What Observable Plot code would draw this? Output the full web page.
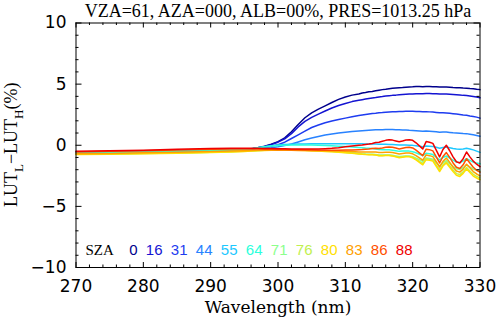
<!DOCTYPE html>
<html><head><meta charset="utf-8">
<script src="https://cdn.jsdelivr.net/npm/d3@7"></script>
<script src="https://cdn.jsdelivr.net/npm/@observablehq/plot@0.6"></script>
<style>body{margin:0;background:#fff} svg{display:block}</style>
</head><body><div id="chart"></div>
<script>
const titleText = "VZA=61, AZA=000, ALB=00%, PRES=1013.25 hPa";
const xLabel = "Wavelength (nm)";
const wavelengths = [270,275,280,285,290,293,295,296,297,298,299,300,301,302,303,304,305,306,307,308,309,310,311,312,312.5,313,313.5,314,314.5,315,315.5,316,316.5,317,317.5,318,318.5,319,319.5,320,320.5,321,321.5,322,322.5,323,323.5,324,324.5,325,325.5,326,326.5,327,327.5,328,328.5,329,329.5,330];
const sza0 = [-0.6,-0.56,-0.52,-0.47,-0.42,-0.37,-0.33,-0.3,-0.2,-0.08,
 0.08,0.3,0.6,1.1,1.7,2.25,2.65,2.95,3.22,3.5,
 3.75,3.95,4.1,4.2,4.28,4.32,4.38,4.4,4.45,4.5,
 4.55,4.58,4.62,4.66,4.68,4.7,4.72,4.75,4.77,4.78,
 4.8,4.8,4.79,4.81,4.8,4.79,4.78,4.76,4.77,4.76,
 4.74,4.72,4.71,4.7,4.68,4.67,4.64,4.62,4.58,4.55];
const sza16 = [-0.6,-0.56,-0.52,-0.47,-0.42,-0.37,-0.33,-0.3,-0.2,-0.1,
 0.05,0.25,0.52,0.95,1.5,1.95,2.28,2.55,2.8,3.05,
 3.25,3.42,3.57,3.68,3.73,3.78,3.83,3.87,3.9,3.95,
 3.98,4.02,4.05,4.08,4.1,4.13,4.15,4.17,4.19,4.2,
 4.22,4.22,4.21,4.24,4.23,4.22,4.21,4.19,4.2,4.19,
 4.17,4.15,4.13,4.11,4.08,4.06,4.02,3.98,3.94,3.88];
const sza31 = [-0.6,-0.56,-0.52,-0.47,-0.42,-0.37,-0.33,-0.3,-0.23,-0.17,
 -0.08,0.05,0.25,0.55,0.85,1.15,1.45,1.66,1.84,1.98,
 2.1,2.22,2.33,2.43,2.48,2.52,2.56,2.6,2.62,2.65,
 2.67,2.7,2.72,2.74,2.75,2.76,2.77,2.78,2.78,2.78,
 2.77,2.76,2.74,2.75,2.73,2.71,2.68,2.65,2.66,2.64,
 2.61,2.58,2.55,2.52,2.48,2.45,2.4,2.36,2.3,2.22];
const sza44 = [-0.6,-0.56,-0.52,-0.47,-0.42,-0.37,-0.33,-0.3,-0.28,-0.25,
 -0.2,-0.13,-0.03,0.1,0.27,0.45,0.6,0.72,0.83,0.92,
 1.0,1.07,1.12,1.17,1.19,1.21,1.23,1.25,1.26,1.27,
 1.27,1.28,1.28,1.28,1.27,1.26,1.25,1.24,1.22,1.21,
 1.19,1.17,1.14,1.16,1.14,1.12,1.1,1.06,1.08,1.08,
 1.05,1.02,1.0,0.98,0.96,0.95,0.9,0.85,0.8,0.74];
const sza55 = [-0.62,-0.58,-0.53,-0.48,-0.43,-0.37,-0.32,-0.28,-0.2,-0.12,
 -0.04,0.02,0.06,0.08,0.1,0.11,0.12,0.12,0.12,0.12,
 0.12,0.12,0.12,0.12,0.12,0.11,0.11,0.1,0.1,0.09,
 0.09,0.08,0.07,0.06,0.05,0.03,0.03,0.02,0.01,-0.01,
 -0.04,-0.08,-0.12,-0.06,-0.08,-0.1,-0.16,-0.24,-0.18,-0.14,
 -0.2,-0.26,-0.3,-0.32,-0.3,-0.25,-0.3,-0.38,-0.48,-0.58];
const sza64 = [-0.62,-0.58,-0.53,-0.48,-0.43,-0.37,-0.32,-0.28,-0.2,-0.13,
 -0.06,-0.02,0.01,0.03,0.03,0.03,0.02,0.0,-0.02,-0.05,
 -0.08,-0.11,-0.15,-0.19,-0.21,-0.23,-0.24,-0.27,-0.3,-0.35,
 -0.36,-0.36,-0.37,-0.4,-0.45,-0.5,-0.48,-0.47,-0.48,-0.53,
 -0.62,-0.74,-0.85,-0.66,-0.7,-0.76,-0.98,-1.2,-1.0,-0.88,
 -1.05,-1.22,-1.38,-1.42,-1.3,-1.1,-1.24,-1.38,-1.46,-1.52];
const sza71 = [-0.72,-0.7,-0.66,-0.62,-0.57,-0.52,-0.48,-0.45,-0.42,-0.4,
 -0.37,-0.35,-0.34,-0.34,-0.35,-0.37,-0.4,-0.43,-0.47,-0.5,
 -0.54,-0.58,-0.62,-0.67,-0.7,-0.72,-0.73,-0.74,-0.76,-0.8,
 -0.8,-0.79,-0.79,-0.82,-0.87,-0.92,-0.9,-0.88,-0.88,-0.93,
 -1.05,-1.18,-1.32,-1.05,-1.08,-1.14,-1.42,-1.7,-1.42,-1.25,
 -1.48,-1.72,-1.92,-1.98,-1.82,-1.6,-1.78,-1.95,-2.05,-2.12];
const sza76 = [-0.74,-0.71,-0.67,-0.63,-0.58,-0.53,-0.49,-0.46,-0.43,-0.41,
 -0.39,-0.38,-0.38,-0.38,-0.39,-0.41,-0.43,-0.46,-0.49,-0.52,
 -0.56,-0.6,-0.64,-0.69,-0.72,-0.74,-0.75,-0.76,-0.78,-0.83,
 -0.83,-0.82,-0.82,-0.86,-0.92,-0.98,-0.94,-0.9,-0.91,-0.98,
 -1.14,-1.32,-1.5,-1.1,-1.14,-1.22,-1.62,-2.02,-1.6,-1.35,
 -1.68,-2.02,-2.32,-2.4,-2.18,-1.82,-2.1,-2.38,-2.55,-2.68];
const sza80 = [-0.76,-0.73,-0.69,-0.65,-0.6,-0.55,-0.51,-0.48,-0.45,-0.43,
 -0.41,-0.4,-0.4,-0.4,-0.41,-0.43,-0.45,-0.48,-0.51,-0.54,
 -0.58,-0.62,-0.66,-0.71,-0.74,-0.76,-0.77,-0.78,-0.8,-0.85,
 -0.85,-0.84,-0.84,-0.88,-0.95,-1.02,-0.98,-0.94,-0.95,-1.03,
 -1.2,-1.4,-1.6,-1.18,-1.22,-1.3,-1.72,-2.15,-1.7,-1.45,
 -1.8,-2.15,-2.45,-2.55,-2.3,-1.95,-2.22,-2.52,-2.68,-2.82];
const sza83 = [-0.7,-0.67,-0.62,-0.57,-0.52,-0.47,-0.44,-0.42,-0.41,-0.4,
 -0.4,-0.4,-0.4,-0.41,-0.42,-0.43,-0.44,-0.45,-0.46,-0.47,
 -0.48,-0.5,-0.52,-0.55,-0.56,-0.56,-0.55,-0.55,-0.56,-0.6,
 -0.6,-0.58,-0.57,-0.6,-0.66,-0.72,-0.68,-0.64,-0.64,-0.7,
 -0.85,-1.03,-1.22,-0.8,-0.85,-0.93,-1.35,-1.78,-1.32,-1.05,
 -1.4,-1.8,-2.1,-2.2,-1.95,-1.55,-1.85,-2.15,-2.35,-2.5];
const sza86 = [-0.55,-0.5,-0.44,-0.38,-0.32,-0.3,-0.3,-0.3,-0.31,-0.32,
 -0.33,-0.34,-0.35,-0.36,-0.37,-0.38,-0.39,-0.4,-0.4,-0.4,
 -0.4,-0.39,-0.38,-0.36,-0.35,-0.32,-0.3,-0.27,-0.24,-0.26,
 -0.22,-0.17,-0.14,-0.17,-0.23,-0.3,-0.24,-0.18,-0.17,-0.22,
 -0.4,-0.62,-0.85,-0.32,-0.36,-0.46,-0.95,-1.45,-0.92,-0.6,
 -1.0,-1.45,-1.8,-1.9,-1.6,-1.1,-1.45,-1.8,-2.05,-2.2];
const sza88 = [-0.5,-0.45,-0.4,-0.33,-0.27,-0.25,-0.24,-0.24,-0.25,-0.26,
 -0.27,-0.28,-0.29,-0.3,-0.3,-0.31,-0.31,-0.3,-0.28,-0.25,
 -0.2,-0.13,-0.06,0.0,0.03,0.07,0.1,0.15,0.22,0.25,
 0.33,0.4,0.45,0.42,0.35,0.28,0.35,0.43,0.45,0.4,
 0.2,-0.05,-0.3,0.3,0.25,0.15,-0.4,-0.95,-0.35,0.0,
 -0.45,-0.95,-1.35,-1.45,-1.1,-0.55,-0.95,-1.3,-1.55,-1.75];
const szaLabels = ["0","16","31","44","55","64","71","76","80","83","86","88"];
const szaColors = ["#00008C","#1414D2","#1E3CF0","#2882FF","#1EC8FF","#2CFFDC","#8CFF8C","#C0F050","#FFE000","#FFA000","#FF5000","#F00000"];
const xMajor = [270,280,290,300,310,320,330];
const xMinor = [272,274,276,278,282,284,286,288,292,294,296,298,302,304,306,308,312,314,316,318,322,324,326,328];
const yMajor = [-10,-5,0,5,10];
const yMinor = [-9,-8,-7,-6,-4,-3,-2,-1,1,2,3,4,6,7,8,9];

const series = [sza0,sza16,sza31,sza44,sza55,sza64,sza71,sza76,sza80,sza83,sza86,sza88];
const rows = series.flatMap((vals, i) => vals.map((v, j) => ({wl: wavelengths[j], d: v, sza: szaLabels[i]})));

const W = 500, H = 319, mT = 22.5, mB = 52, mL = 75.5, mR = 20.5;
const innerH = H - mT - mB, innerW = W - mL - mR;
const sans = "DejaVu Sans", serif = "Liberation Serif";

const legendMarks = szaLabels.map((lab, i) => Plot.text([lab], {
  frameAnchor: "bottom-left", dx: 61.5 + 25 * i, dy: -17.5, textAnchor: "end", lineAnchor: "middle",
  fill: szaColors[i], fontSize: 15, fontFamily: "Liberation Sans"
}));

const plot = Plot.plot({
  width: W, height: H,
  marginTop: mT, marginBottom: mB, marginLeft: mL, marginRight: mR,
  style: {background: "#fff", overflow: "visible"},
  x: {domain: [270, 330]},
  y: {domain: [-10, 10]},
  color: {domain: szaLabels, range: szaColors},
  marks: [
    Plot.line(rows, {x: "wl", y: "d", z: "sza", stroke: "sza", strokeWidth: 1.5}),
    Plot.frame({stroke: "#000", strokeWidth: 1}),
    Plot.tickX(xMajor, {x: d => d, insetTop: innerH - 5, stroke: "#000"}),
    Plot.tickX(xMajor, {x: d => d, insetBottom: innerH - 5, stroke: "#000"}),
    Plot.tickX(xMinor, {x: d => d, insetTop: innerH - 2.5, stroke: "#000"}),
    Plot.tickX(xMinor, {x: d => d, insetBottom: innerH - 2.5, stroke: "#000"}),
    Plot.tickY(yMajor, {y: d => d, insetRight: innerW - 6, stroke: "#000"}),
    Plot.tickY(yMajor, {y: d => d, insetLeft: innerW - 6, stroke: "#000"}),
    Plot.tickY(yMinor, {y: d => d, insetRight: innerW - 3, stroke: "#000"}),
    Plot.tickY(yMinor, {y: d => d, insetLeft: innerW - 3, stroke: "#000"}),
    Plot.axisX({ticks: xMajor, anchor: "bottom", tickSize: 0, tickPadding: 12.5, fontSize: 17, fontFamily: sans, label: null, fill: "#000"}),
    Plot.axisY({ticks: yMajor, anchor: "left", tickSize: 0, tickPadding: 9.5, fontSize: 17, fontFamily: sans, label: null, fill: "#000"}),
    Plot.text([titleText], {frameAnchor: "top", dy: -11.5, lineAnchor: "middle", fontSize: 18, fontFamily: serif, fill: "#000"}),
    Plot.text([xLabel], {frameAnchor: "bottom", dy: 40.5, lineAnchor: "middle", fontSize: 17, fontFamily: "DejaVu Serif", fill: "#000"}),
    Plot.text(["SZA"], {frameAnchor: "bottom-left", dx: 9.5, dy: -17.5, textAnchor: "start", lineAnchor: "middle", fontSize: 15, fontFamily: serif, fill: "#000"}),
    ...legendMarks
  ]
});

const svg = d3.select(plot);
const yl = svg.append("text")
  .attr("transform", `translate(17,${mT + innerH / 2}) rotate(-90)`)
  .attr("text-anchor", "middle")
  .attr("fill", "#000")
  .style("font-family", serif).style("font-size", "18px");
yl.append("tspan").text("LUT");
yl.append("tspan").attr("dy", 6).style("font-size", "13px").text("L");
yl.append("tspan").attr("dy", -6).text("\u2212LUT");
yl.append("tspan").attr("dy", 6).style("font-size", "13px").text("H");
yl.append("tspan").attr("dy", -6).text("(%)");

document.getElementById("chart").appendChild(plot);
</script>
</body></html>
